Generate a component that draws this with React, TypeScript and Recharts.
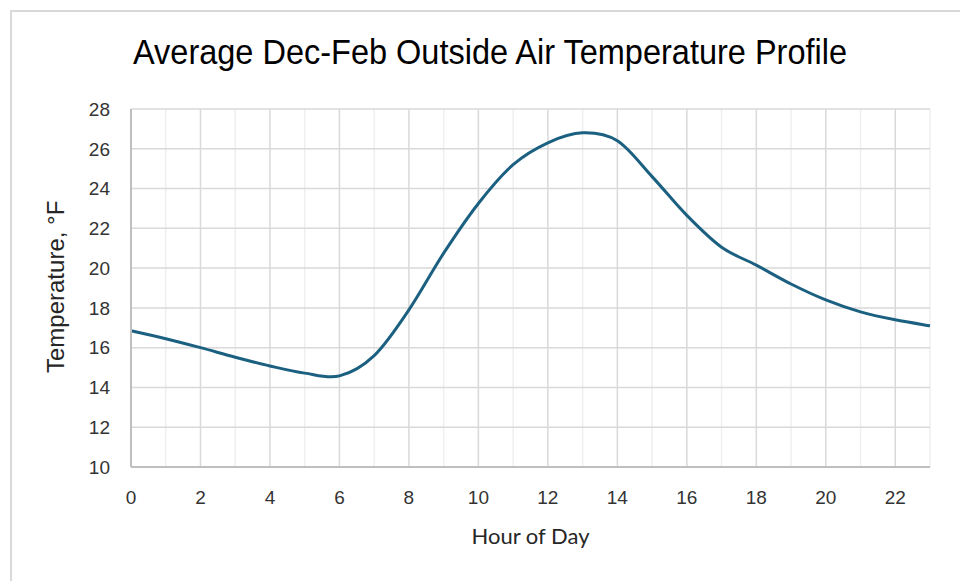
import React from "react";
import { LineChart, Line, XAxis, YAxis, CartesianGrid } from "recharts";

const hours = [0, 1, 2, 3, 4, 5, 6, 7, 8, 9, 10, 11, 12, 13, 14, 15, 16, 17, 18, 19, 20, 21, 22, 23];
const temps = [16.85, 16.45, 16.0, 15.52, 15.08, 14.72, 14.58, 15.6, 17.9, 20.75, 23.25, 25.2, 26.3, 26.8, 26.4, 24.6, 22.65, 21.05, 20.15, 19.2, 18.4, 17.8, 17.4, 17.1];
const xTicks = [0, 2, 4, 6, 8, 10, 12, 14, 16, 18, 20, 22];
const minorX = [1, 3, 5, 7, 9, 11, 13, 15, 17, 19, 21, 23];
const yTicks = [10, 12, 14, 16, 18, 20, 22, 24, 26, 28];

const data = hours.map((h, i) => ({ hour: h, temp: temps[i] }));

// Excel-style smoothed line (Catmull-Rom with 1/6 tension)
const excelCurve = (context: any) => {
  let pts: number[][] = [];
  return {
    areaStart() {},
    areaEnd() {},
    lineStart() {
      pts = [];
    },
    point(x: number, y: number) {
      pts.push([+x, +y]);
    },
    lineEnd() {
      if (!pts.length) return;
      context.moveTo(pts[0][0], pts[0][1]);
      for (let i = 0; i < pts.length - 1; i++) {
        const p0 = pts[i - 1] || pts[i];
        const p1 = pts[i];
        const p2 = pts[i + 1];
        const p3 = pts[i + 2] || pts[i + 1];
        const c1x = p1[0] + (p2[0] - p0[0]) / 6;
        const c1y = p1[1] + (p2[1] - p0[1]) / 6;
        const c2x = p2[0] - (p3[0] - p1[0]) / 6;
        const c2y = p2[1] - (p3[1] - p1[1]) / 6;
        context.bezierCurveTo(c1x, c1y, c2x, c2y, p2[0], p2[1]);
      }
    },
  };
};

const tickStyle = { fontSize: 19, fill: "#333333", fontFamily: "Liberation Sans, Arial, sans-serif" };

export default function App() {
  return (
    <div style={{ position: "absolute", left: 0, top: 0, width: 960, height: 581, background: "#fff", overflow: "hidden" }}>
      <div
        style={{
          position: "absolute",
          left: 10,
          top: 10,
          width: 960,
          height: 581,
          borderLeft: "2px solid #d9d9d9",
          borderTop: "2px solid #d9d9d9",
        }}
      />
      <svg style={{ position: "absolute", left: 0, top: 0 }} width={960} height={100}>
        <text
          x={490}
          y={64}
          textAnchor="middle"
          textLength={714}
          lengthAdjust="spacingAndGlyphs"
          fontFamily="Liberation Sans, Arial, sans-serif"
          fontSize={35}
          fill="#000"
        >
          Average Dec-Feb Outside Air Temperature Profile
        </text>
      </svg>
      <div style={{ position: "absolute", left: 0, top: 0 }}>
        <LineChart width={960} height={581} data={data} margin={{ top: 109, right: 30, bottom: 84, left: 71 }}>
          <CartesianGrid stroke="#efefef" strokeWidth={1.5} horizontal={false} verticalValues={minorX} />
          <CartesianGrid stroke="#d9d9d9" strokeWidth={1.5} horizontalValues={yTicks} verticalValues={xTicks} />
          <XAxis
            dataKey="hour"
            type="number"
            domain={[0, 23]}
            ticks={xTicks}
            tickLine={false}
            axisLine={{ stroke: "#bfbfbf", strokeWidth: 2 }}
            tick={tickStyle}
            tickMargin={18}
            height={30}
            label={{
              value: "Hour of Day",
              position: "insideBottom",
              offset: -47,
              style: { fontSize: 22, fill: "#262626", fontFamily: "Lato, sans-serif" },
            }}
          />
          <YAxis
            type="number"
            domain={[10, 28]}
            ticks={yTicks}
            tickLine={false}
            axisLine={{ stroke: "#bfbfbf", strokeWidth: 2 }}
            tick={tickStyle}
            tickMargin={15}
            width={60}
            label={{
              value: "Temperature, °F",
              angle: -90,
              position: "insideLeft",
              offset: -16,
              dy: 85,
              style: { fontSize: 24, fill: "#262626", fontFamily: "Liberation Sans, Arial, sans-serif" },
            }}
          />
          <Line
            type={excelCurve as any}
            dataKey="temp"
            stroke="#1b6080"
            strokeWidth={3}
            dot={false}
            isAnimationActive={false}
          />
        </LineChart>
      </div>
    </div>
  );
}
